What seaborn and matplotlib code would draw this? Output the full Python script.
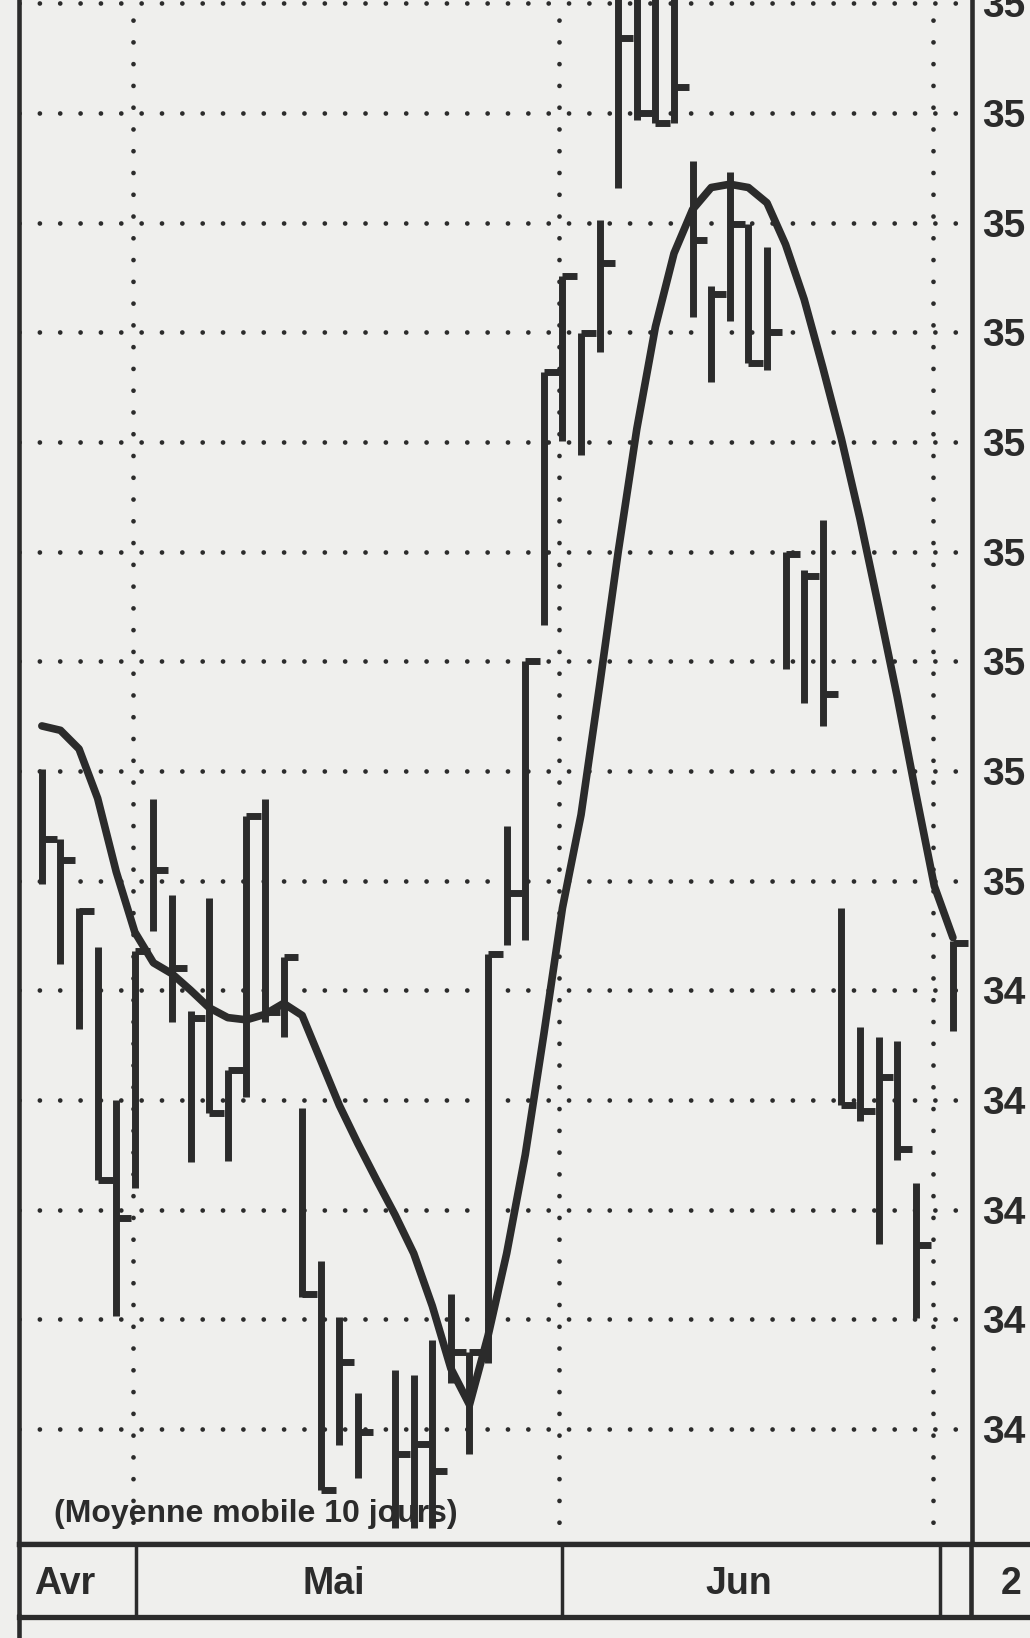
import seaborn as sns
import matplotlib.pyplot as plt
from matplotlib.lines import Line2D

# trading day index (18 and 48 are missing sessions)
days = [0, 1, 2, 3, 4, 5, 6, 7, 8, 9, 10, 11, 12, 13, 14, 15, 16, 17,
        19, 20, 21, 22, 23, 24, 25, 26, 27, 28, 29, 30, 31, 32, 33, 34,
        35, 36, 37, 38, 39, 40, 41, 42, 43, 44, 45, 46, 47, 49]
highs = [351.02, 350.38, 349.75, 349.39, 348.00, 349.36, 350.74, 349.87, 348.81, 349.84,
         348.27, 350.59, 350.74, 349.30, 347.93, 346.53, 346.02, 345.33,
         345.54, 345.49, 345.81, 346.23, 345.70, 349.33, 350.50, 352.00, 354.64, 355.51,
         354.99, 356.02, 358.40, 358.50, 358.30, 358.30,
         356.56, 355.42, 356.46, 355.99, 355.78, 353.00, 352.83, 353.29,
         349.75, 348.66, 348.57, 348.54, 347.24, 349.45]
lows = [349.97, 349.24, 348.65, 347.27, 346.03, 347.20, 349.54, 348.71, 347.43, 347.88,
        347.44, 348.03, 348.71, 348.57, 346.20, 344.44, 344.85, 344.55,
        344.10, 344.10, 344.10, 345.42, 344.77, 345.60, 349.41, 349.46, 352.33, 354.01,
        353.88, 354.82, 356.32, 356.94, 356.91, 356.91,
        355.14, 354.55, 355.10, 354.72, 354.66, 351.93, 351.62, 351.41,
        347.95, 347.81, 346.69, 347.45, 346.01, 348.63]
closes = [350.38, 350.19, 349.72, 347.27, 346.92, 349.36, 350.10, 349.20, 348.75, 347.88,
          348.27, 350.59, 348.80, 349.30, 346.23, 344.44, 345.61, 344.97,
          344.77, 344.86, 344.62, 345.70, 345.70, 349.33, 349.89, 352.00, 354.64, 355.51,
          354.99, 355.63, 357.68, 357.00, 356.91, 357.24,
          355.84, 355.35, 355.99, 354.72, 355.00, 352.98, 352.78, 351.70,
          347.95, 347.90, 348.21, 347.55, 346.68, 349.43]

# moyenne mobile 10 jours, read per day
ma_days = list(range(50))
ma_values = [351.41, 351.37, 351.20, 350.75, 350.08, 349.53, 349.25, 349.15, 349.00, 348.84,
             348.75, 348.73, 348.78, 348.88, 348.77, 348.36, 347.95, 347.60, 347.27, 346.95,
             346.60, 346.12, 345.55, 345.22, 345.85, 346.60, 347.50, 348.60, 349.75, 350.60,
             351.78, 353.00, 354.12, 355.05, 355.72, 356.12, 356.32, 356.35, 356.32, 356.18,
             355.80, 355.30, 354.68, 354.03, 353.30, 352.50, 351.68, 350.80, 349.95, 349.48]

price_ticks = list(range(345, 359))
price_labels = [str(v)[:2] for v in price_ticks]   # only the leading digits show in the cut
month_lines = [4.9, 27.8, 47.95]
month_edges = [5.06, 27.98, 48.3]
month_names = ['Avr', 'Mai', 'Jun', '2']
month_pos = [1.24, 15.7, 37.5, 51.6]

ink = '#2b2b2b'
paper = '#efefed'

sns.set_theme(style='white')
plt.rcParams['font.family'] = ['Liberation Sans', 'DejaVu Sans']
plt.rcParams['font.weight'] = 'bold'

W, H = 986, 1568
fig = plt.figure(figsize=(10.30, 16.38), dpi=100)
fig.patch.set_facecolor(paper)

ax = fig.add_axes([18 / W, 1 - 1478 / H, (930 - 18) / W, 1478 / H])
ax.set_facecolor(paper)
ax.set_xlim(-1.24, 50.0)
ax.set_ylim(343.95, 358.03)

dots = (0, (0.01, 4.3))
for v in price_ticks:
    ax.axhline(v, color=ink, lw=3.4, linestyle=dots, dash_capstyle='round', zorder=1)
for m in month_lines:
    ax.axvline(m, color=ink, lw=3.4, linestyle=(0, (0.01, 4.6)), dash_capstyle='round', zorder=1)

ax.text(0.67, 344.22, '(Moyenne mobile 10 jours)', fontsize=23, fontweight='bold',
        color=ink, va='center', ha='left', zorder=2)

# bars: high-low with closing tick on the right
ax.vlines(days, lows, highs, color=ink, lw=5, zorder=3)
ax.hlines(closes, days, [d + 0.8 for d in days], color=ink, lw=5, zorder=3)

sns.lineplot(x=ma_days, y=ma_values, ax=ax, color=ink, lw=5.5, zorder=4,
             solid_joinstyle='round', solid_capstyle='round')

ax.yaxis.tick_right()
ax.set_yticks(price_ticks)
ax.set_yticklabels(price_labels)
ax.tick_params(axis='y', length=0, pad=8, labelsize=28, labelcolor=ink)
ax.set_xticks([])
ax.spines['top'].set_visible(False)
for s in ['left', 'right']:
    ax.spines[s].set_linewidth(3.3)
    ax.spines[s].set_color(ink)
ax.spines['bottom'].set_linewidth(3.8)
ax.spines['bottom'].set_color(ink)

# month band
bax = fig.add_axes([18 / W, 1 - 1548 / H, 1 - 18 / W, 70 / H])
bax.set_facecolor(paper)
bax.set_xlim(-1.24, 53.15)
bax.set_ylim(0, 1)
bax.set_xticks([])
bax.set_yticks([])
bax.spines['right'].set_visible(False)
for s in ['top', 'bottom']:
    bax.spines[s].set_linewidth(3.8)
    bax.spines[s].set_color(ink)
bax.spines['left'].set_linewidth(3.3)
bax.spines['left'].set_color(ink)
for e in month_edges:
    bax.axvline(e, color=ink, lw=2.5)
bax.axvline(50.0, color=ink, lw=3.3)
for name, p in zip(month_names, month_pos):
    bax.text(p, 0.45, name, fontsize=27, fontweight='bold', color=ink,
             ha='left' if name == '2' else 'center', va='center')

fig.add_artist(Line2D([18 / W, 18 / W], [0, 22 / H], lw=3.3, color=ink))

fig.savefig('out.png', dpi=100, facecolor=paper)
